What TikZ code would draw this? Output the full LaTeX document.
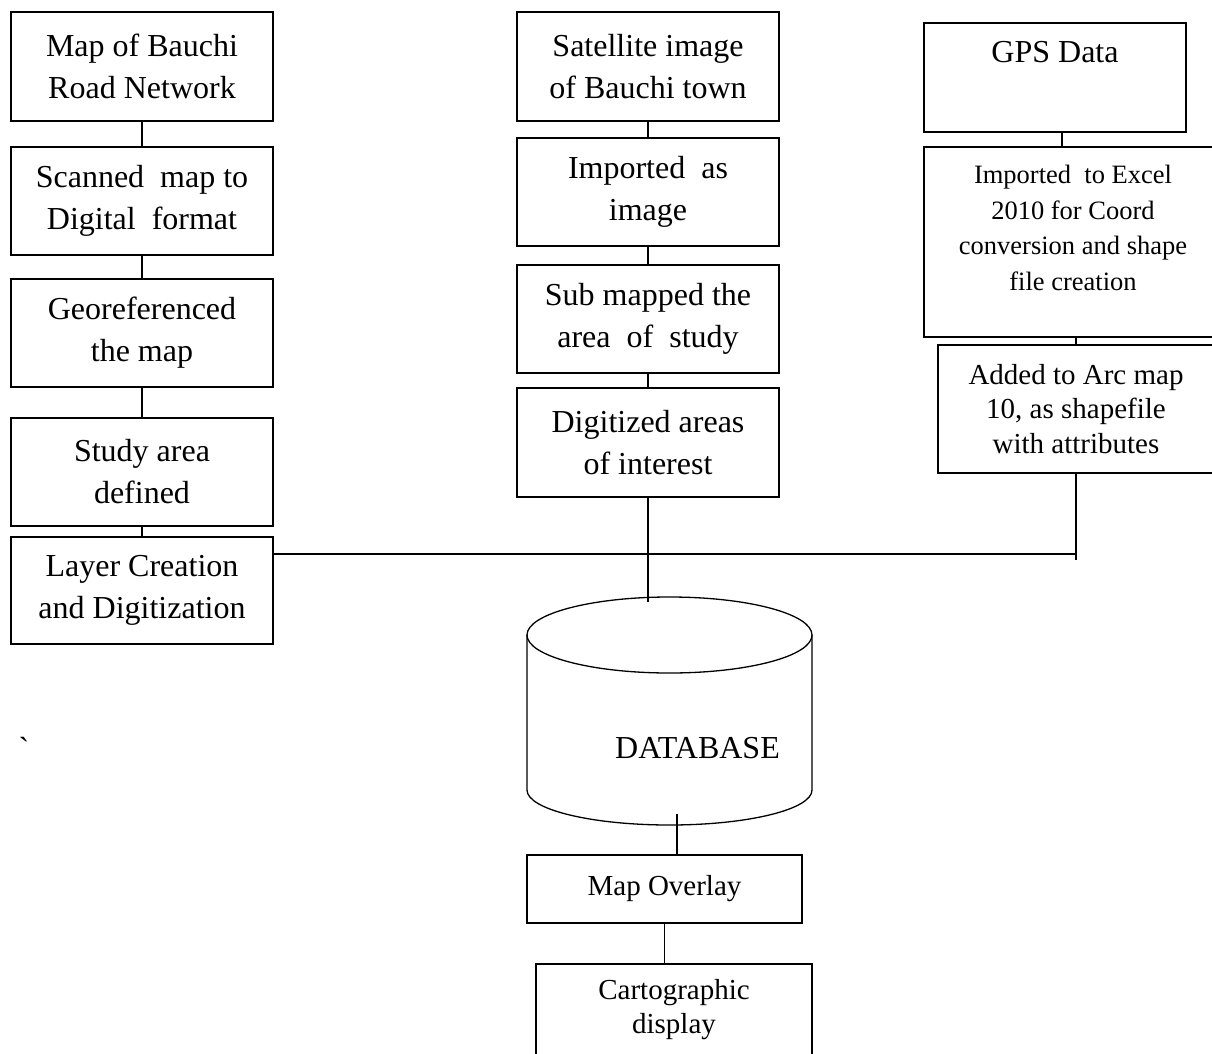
\documentclass[tikz,border=0pt]{standalone}
\usepackage{fontspec}
\setmainfont{Liberation Serif}
\usetikzlibrary{calc}
\newcommand{\bigtxt}{\fontsize{32}{42}\selectfont}
\newcommand{\midtxt}{\fontsize{29}{34.5}\selectfont}
\newcommand{\smalltxt}{\fontsize{26.5}{35.5}\selectfont}
\begin{document}
\begin{tikzpicture}[x=1pt,y=-1pt,
  flowbox/.style={draw, line width=1.6pt, rectangle, inner sep=0pt, align=center, font=\bigtxt},
  plaintext/.style={inner sep=0pt, align=center},
  link/.style={line width=1.6pt},
  dbline/.style={line width=1.3pt}]
\useasboundingbox (0,0) rectangle (1212,1054);

% left column
\node[flowbox, minimum width=262pt, minimum height=109pt] (L1) at (142,66.5) {Map of Bauchi\\Road Network};
\node[flowbox, minimum width=262pt, minimum height=108pt] (L2) at (142,201) {Scanned\hspace{0.25em} map to\\Digital\hspace{0.25em} format};
\node[flowbox, minimum width=262pt, minimum height=108pt] (L3) at (142,333) {Georeferenced\\the map};
\node[flowbox, minimum width=262pt, minimum height=108pt] (L4) at (142,472) {Study area\\defined};
\node[flowbox, minimum width=262pt, minimum height=107pt] (L5) at (142,590.5) {Layer Creation\\and Digitization};

% middle column
\node[flowbox, minimum width=262pt, minimum height=109pt] (M1) at (648,66.5) {Satellite image\\of Bauchi town};
\node[flowbox, minimum width=262pt, minimum height=108pt] (M2) at (648,192) {Imported\hspace{0.25em} as\\image};
\node[flowbox, minimum width=262pt, minimum height=108pt] (M3) at (648,319) {Sub mapped the\\area\hspace{0.25em} of\hspace{0.25em} study};
\node[flowbox, minimum width=262pt, minimum height=109pt] (M4) at (648,442.5) {Digitized areas\\of interest};

% right column
\node[flowbox, minimum width=262pt, minimum height=109pt] (R1) at (1055,77.5) {};
\node[plaintext, font=\bigtxt, anchor=base] (R1t) at (1055,63) {GPS Data};
\node[flowbox, minimum width=298pt, minimum height=190pt] (R2) at (1073,242) {};
\node[plaintext, font=\smalltxt] (R2t) at (1073,228) {Imported\hspace{0.25em} to Excel\\2010 for Coord\\conversion and shape\\file creation};
\node[flowbox, font=\midtxt, minimum width=276pt, minimum height=128pt] (R3) at (1076,409) {Added to Arc map\\10, as shapefile\\with attributes};

% database cylinder
\draw[dbline] (669.5,635) ellipse [x radius=142.5, y radius=38];
\draw[dbline] (527,635) -- (527,790) arc[start angle=180, end angle=0, x radius=142.5, y radius=35] -- (812,635);
\node[plaintext, font=\bigtxt, anchor=base] (db) at (697.5,758) {DATABASE};
\coordinate (dbT) at (648,602);
\coordinate (dbB) at (677,814);

% bottom boxes
\node[flowbox, font=\fontsize{29}{34}\selectfont, minimum width=275pt, minimum height=68pt] (MO) at (664.5,889) {Map Overlay};
\node[flowbox, font=\fontsize{29}{34}\selectfont, minimum width=276pt, minimum height=92pt] (CD) at (674,1010) {Cartographic\\display};

% stray mark
\node[plaintext, font=\bigtxt] (tick) at (24,748) {\XeTeXglyph\XeTeXcharglyph"0060};

% connectors
\coordinate (hy) at (0,554);
\coordinate (xg) at (1062,0);
\draw[link] (L1.south) -- (L2.north);
\draw[link] (L2.south) -- (L3.north);
\draw[link] (L3.south) -- (L4.north);
\draw[link] (L4.south) -- (L5.north);
\draw[link] (M1.south) -- (M2.north);
\draw[link] (M2.south) -- (M3.north);
\draw[link] (M3.south) -- (M4.north);
\draw[link] (M4.south) -- (dbT);
\draw[link] (xg |- R1.south) -- (xg |- R2.north);
\draw[link] (R3.north) -- (R3.north |- R2.south);
\draw[link] (R3.south) -- ($(R3.south |- hy)+(0,6)$);
\draw[link] (L5.east |- hy) -- (R3.south |- hy);
\draw[link] (dbB) -- (dbB |- MO.north);
\draw[link] (MO.south) -- (MO.south |- CD.north);
\end{tikzpicture}
\end{document}
